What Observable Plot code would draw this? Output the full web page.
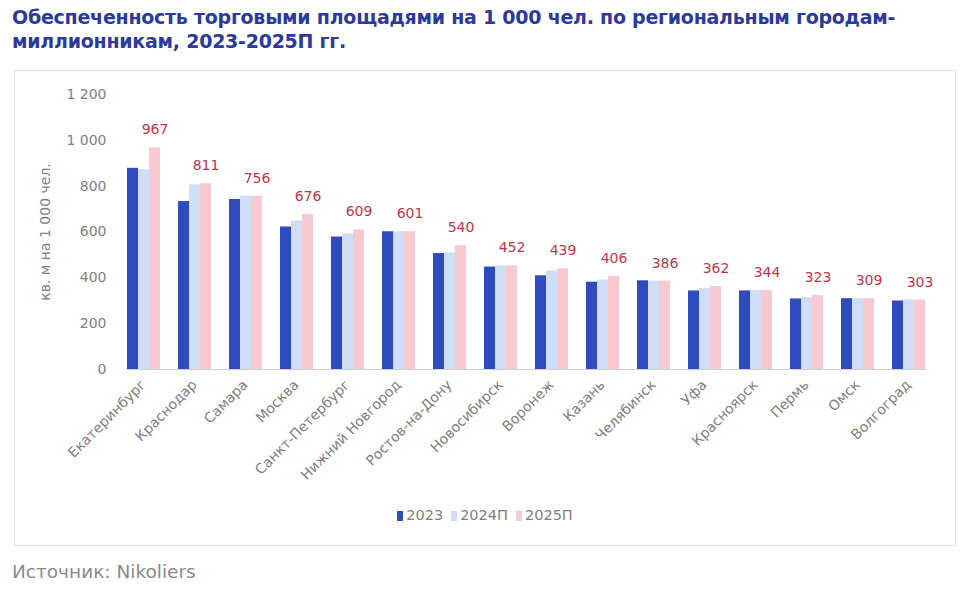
<!DOCTYPE html>
<html>
<head>
<meta charset="utf-8">
<script src="https://cdn.jsdelivr.net/npm/d3@7"></script>
<script src="https://cdn.jsdelivr.net/npm/@observablehq/plot@0.6"></script>
<style>
  html, body { margin: 0; padding: 0; background: #ffffff; }
  body { width: 974px; height: 591px; position: relative; overflow: hidden; font-family: "DejaVu Sans", sans-serif; }
  #title { position: absolute; left: 12px; top: 5px; width: 960px; color: #2b3a9c; font-weight: bold; font-size: 19px; line-height: 24px; letter-spacing: -0.25px; white-space: nowrap; }
  #box { position: absolute; left: 14px; top: 70px; width: 940px; height: 474px; border: 1px solid #e3e3e3; background: #fff; }
  #chart { position: absolute; left: 0; top: 0; }
  #legend { position: absolute; left: 0; width: 100%; top: 436px; text-align: center; font-size: 14.5px; color: #7f7f7f; }
  #legend span.item { display: inline-block; margin: 0 4px; }
  #legend span.sw { display: inline-block; width: 6px; height: 10px; margin-right: 3px; vertical-align: -1px; }
  #source { position: absolute; left: 12px; top: 561px; font-size: 18.5px; color: #8a8a8a; }
</style>
</head>
<body>
<div id="title">Обеспеченность торговыми площадями на 1 000 чел. по региональным городам-<br>миллионникам, 2023-2025П гг.</div>
<div id="box">
  <div id="chart"></div>
  <div id="legend"></div>
</div>
<div id="source">Источник: Nikoliers</div>
<script>
const cities = ["Екатеринбург","Краснодар","Самара","Москва","Санкт-Петербург","Нижний Новгород","Ростов-на-Дону","Новосибирск","Воронеж","Казань","Челябинск","Уфа","Красноярск","Пермь","Омск","Волгоград"];
const series = ["2023","2024П","2025П"];
const v2023 = [878, 733, 742, 622, 578, 601, 506, 447, 409, 381, 387, 343, 343, 308, 309, 299];
const v2024 = [872, 806, 756, 648, 592, 601, 509, 452, 430, 390, 386, 354, 344, 313, 309, 303];
const v2025 = [967, 811, 756, 676, 609, 601, 540, 452, 439, 406, 386, 362, 344, 323, 309, 303];
const colors = ["#2f4cbf", "#d0ddf6", "#f8c9d0"];
const yTicks = [0, 200, 400, 600, 800, 1000, 1200];
const yLabel = "кв. м на 1 000 чел.";

const data = cities.flatMap((c, i) => [
  {city: c, s: series[0], v: v2023[i]},
  {city: c, s: series[1], v: v2024[i]},
  {city: c, s: series[2], v: v2025[i]}
]);
const fmt = d => d3.format(",")(d).replace(/,/g, " ");

const chart = Plot.plot({
  width: 940,
  height: 420,
  marginTop: 23,
  marginBottom: 122,
  marginLeft: 106,
  marginRight: 24,
  style: {fontFamily: "DejaVu Sans, sans-serif", fontSize: "13px", color: "#808080", background: "transparent"},
  fx: {domain: cities, padding: 0.33, label: null},
  x: {domain: series, padding: 0, axis: null},
  y: {domain: [0, 1200]},
  color: {domain: series, range: colors},
  marks: [
    Plot.axisFx({anchor: "bottom", tickRotate: -45, tickSize: 0, tickPadding: 13, label: null, fontSize: 14, fill: "#808080"}),
    Plot.axisY({ticks: yTicks, tickFormat: fmt, tickSize: 0, tickPadding: 20, fontSize: 14, fill: "#808080",
      label: yLabel, labelAnchor: "center", labelOffset: 86, labelArrow: "none"}),
    Plot.frame({anchor: "bottom", stroke: "#cfcfcf", facet: "super"}),
    Plot.barY(data, {fx: "city", x: "s", y: "v", fill: "s"}),
    Plot.text(data.filter(d => d.s === series[2]), {fx: "city", x: "s", y: "v", text: d => String(d.v), dy: -18, fill: "#c0354d", fontSize: 14})
  ]
});
document.getElementById("chart").appendChild(chart);

const legend = document.getElementById("legend");
series.forEach((s, i) => {
  const item = document.createElement("span");
  item.className = "item";
  const sw = document.createElement("span");
  sw.className = "sw";
  sw.style.background = colors[i];
  item.appendChild(sw);
  item.appendChild(document.createTextNode(s));
  legend.appendChild(item);
});
</script>
</body>
</html>
